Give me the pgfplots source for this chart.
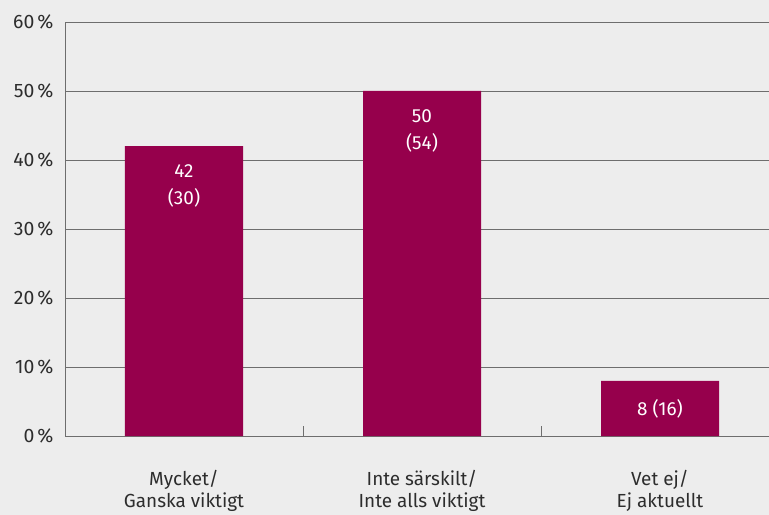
\documentclass[border=0pt]{standalone}
\usepackage{pgfplots}
\pgfplotsset{compat=1.18}
\usepackage{fontspec}
\setmainfont{Fira Sans}
\definecolor{bg}{RGB}{237,237,237}
\definecolor{barc}{RGB}{150,0,76}
\definecolor{txt}{RGB}{45,45,45}
\definecolor{gridc}{RGB}{110,110,110}
\begin{document}
\begin{tikzpicture}
\fill[bg] (0,0) rectangle (769bp,515bp);
\path[use as bounding box] (0,0) rectangle (769bp,515bp);
\begin{axis}[
  at={(65bp,79bp)}, anchor=south west,
  scale only axis, width=704bp, height=414bp,
  xmin=-0.5, xmax=2.458, ymin=0, ymax=60,
  axis x line*=bottom, axis y line*=left,
  axis line style={gridc, line width=0.8pt},
  ytick={0,10,...,60},
  yticklabel={\pgfmathprintnumber{\tick}\hspace{3bp}\%},
  /pgf/number format/assume math mode=true,
  ymajorgrids, grid style={gridc, line width=0.7pt},
  major y tick style={draw=none},
  xtick={0,1,2},
  xticklabels={{Mycket/\\Ganska viktigt},{Inte särskilt/\\Inte alls viktigt},{Vet ej/\\Ej aktuellt}},
  major x tick style={draw=none},
  extra x ticks={0.5,1.5},
  extra x tick labels={},
  extra x tick style={grid=none, major tick length=10bp, tick align=inside, major x tick style={draw=gridc, line width=0.8pt}},
  xticklabel style={align=center, font=\fontsize{19}{23}\selectfont, text=txt, yshift=-26bp},
  yticklabel style={font=\fontsize{19.5}{22}\selectfont, text=txt, xshift=-8bp},
  ybar, bar width=118bp,
  nodes near coords={\pgfplotspointmeta},
  point meta=explicit symbolic,
  every node near coord/.append style={anchor=north, yshift=-15bp, align=center, text=white, font=\fontsize{19}{27}\selectfont},
  clip=false,
]
\addplot[fill=barc, draw=none] coordinates {(0,42) [{42\\(30)}] (1,50) [{50\\(54)}] (2,8) [{8 (16)}]};
\end{axis}
\end{tikzpicture}
\end{document}
